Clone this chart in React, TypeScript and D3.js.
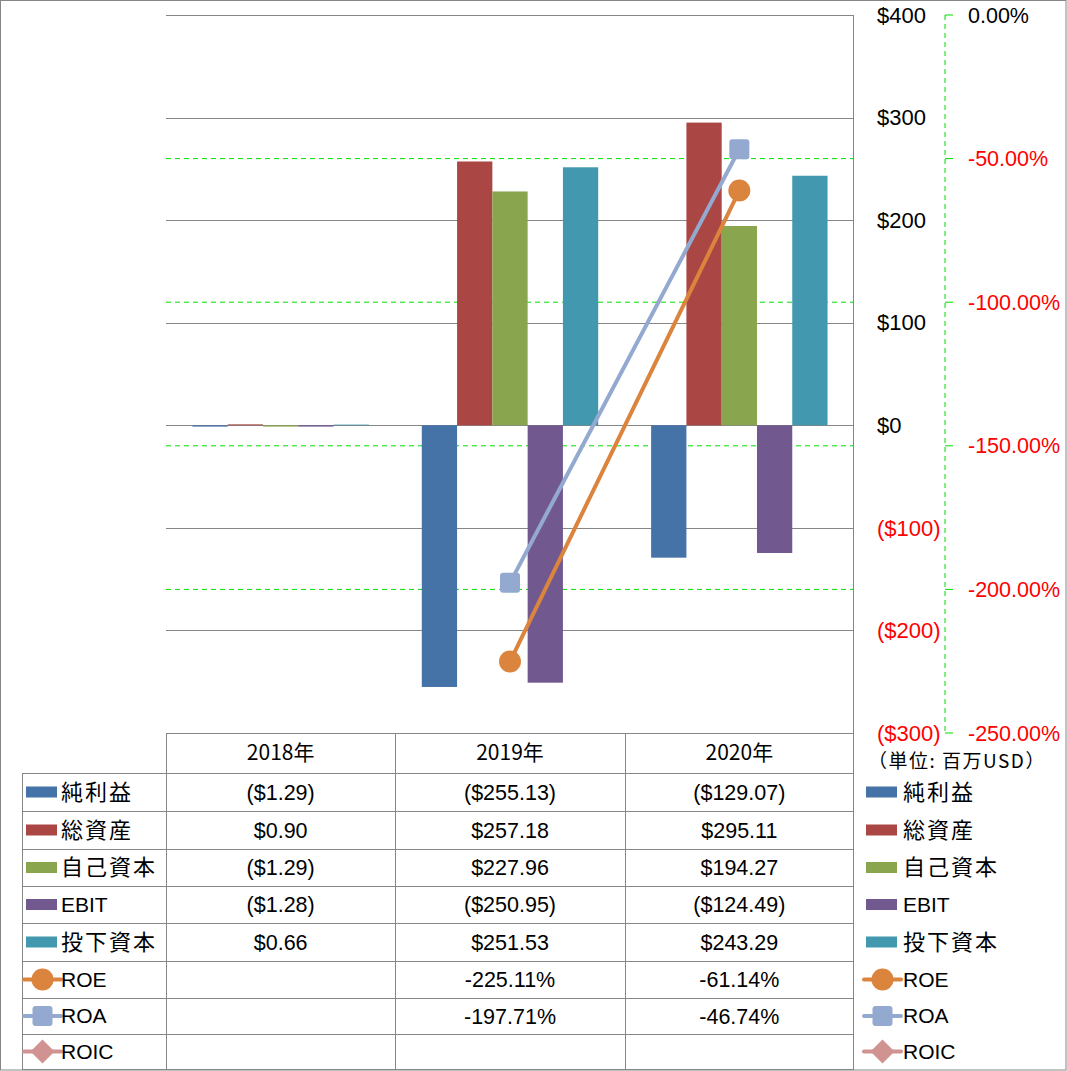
import React from "react";
import * as d3 from "d3";

const years = ["2018年", "2019年", "2020年"];
const barSeries = ["純利益", "総資産", "自己資本", "EBIT", "投下資本"];
const barColors = ["#4572A7", "#AA4643", "#89A54E", "#71588F", "#4198AF"];
const netIncome = [-1.29, -255.13, -129.07];
const totalAssets = [0.9, 257.18, 295.11];
const equity = [-1.29, 227.96, 194.27];
const ebit = [-1.28, -250.95, -124.49];
const investedCapital = [0.66, 251.53, 243.29];
const lineSeries = ["ROE", "ROA", "ROIC"];
const lineColors = ["#DB843D", "#93A9CF", "#D19392"];
const roe: (number | null)[] = [null, -2.2511, -0.6114];
const roa: (number | null)[] = [null, -1.9771, -0.4674];
const roic: (number | null)[] = [null, null, null];
const leftTicks = [400, 300, 200, 100, 0, -100, -200, -300];
const rightTicks = [0, -0.5, -1, -1.5, -2, -2.5];
const unitLabel = "（単位: 百万USD）";

const barData = [netIncome, totalAssets, equity, ebit, investedCapital];
const lineData = [roe, roa, roic];

const FONT = "'Noto Sans CJK JP', 'Noto Sans', sans-serif";
const NUMFONT = "'Liberation Sans', sans-serif";

function fmtMoney(v: number) {
  const s = "$" + Math.abs(v).toFixed(2);
  return v < 0 ? "(" + s + ")" : s;
}
function fmtAxisMoney(v: number) {
  const s = "$" + Math.abs(v).toFixed(0);
  return v < 0 ? "(" + s + ")" : s;
}
function fmtPct(v: number | null) {
  if (v === null) return "";
  return (v * 100).toFixed(2) + "%";
}

function Marker({ kind, x, y, color }: { kind: number; x: number; y: number; color: string }) {
  if (kind === 0) return <circle cx={x} cy={y} r={11} fill={color} />;
  if (kind === 1)
    return <rect x={x - 10} y={y - 10} width={20} height={20} rx={3} fill={color} />;
  return <path d={`M${x},${y - 12}L${x + 12},${y}L${x},${y + 12}L${x - 12},${y}Z`} fill={color} />;
}

export default function App() {
  const W = 1067;
  const H = 1071;
  const plotL = 166;
  const plotR = 854;
  const plotT = 15;
  const plotB = 733;

  const x0 = d3.scaleBand().domain(years).range([plotL, plotR]).padding(0);
  const x1 = d3
    .scaleBand()
    .domain(barSeries)
    .range([0, x0.bandwidth()])
    .paddingInner(0)
    .paddingOuter(0.75);
  const yL = d3.scaleLinear().domain([-300, 400]).range([plotB, plotT]);
  const yR = d3.scaleLinear().domain([-2.5, 0]).range([plotB, plotT]);

  const rowLines = [733, 773, 811, 849, 886, 923, 961, 998, 1034, 1069];
  const rowMid = (i: number) => (rowLines[i] + rowLines[i + 1]) / 2;
  const tableLeft = 22;
  const colLines = [plotL, 395, 625, plotR];

  const lineGen = d3
    .line<{ x: number; y: number }>()
    .x((d) => d.x)
    .y((d) => d.y);

  const allLabels = [...barSeries, ...lineSeries];

  const legendSwatch = (i: number, lx: number, cy: number) => {
    if (i < 5) return <rect x={lx} y={cy - 5.5} width={31} height={11} fill={barColors[i]} />;
    const k = i - 5;
    return (
      <g>
        <line x1={lx - 2} x2={lx + 35} y1={cy} y2={cy} stroke={lineColors[k]} strokeWidth={4} strokeLinecap="round" />
        <Marker kind={k} x={lx + 16.5} y={cy} color={lineColors[k]} />
      </g>
    );
  };

  const labelText = (lab: string, x: number, y: number) => {
    const ascii = /^[A-Za-z]+$/.test(lab);
    return (
      <text
        x={x}
        y={y}
        dy="0.35em"
        fontSize={ascii ? 21 : 22}
        letterSpacing={ascii ? 0 : 2}
        fontFamily={ascii ? NUMFONT : FONT}
        fill="#000"
      >
        {lab}
      </text>
    );
  };

  return (
    <svg width={W} height={H} style={{ position: "absolute", left: 0, top: 0, fontFamily: FONT }}>
      <rect x={0.5} y={0.5} width={W - 1.5} height={H - 1.5} fill="#fff" stroke="#868686" />

      {/* $ gridlines */}
      {leftTicks.map((t) => (
        <line key={"g" + t} x1={plotL} x2={plotR} y1={Math.round(yL(t)) + 0.5} y2={Math.round(yL(t)) + 0.5} stroke="#868686" strokeWidth={1} />
      ))}
      {/* percent gridlines */}
      {rightTicks
        .filter((t) => t !== 0 && t !== -2.5)
        .map((t) => (
          <line key={"pg" + t} x1={plotL} x2={plotR} y1={yR(t)} y2={yR(t)} stroke="#00E000" strokeDasharray="5,4" strokeWidth={1} />
        ))}
      <line x1={plotR - 0.5} x2={plotR - 0.5} y1={plotT} y2={H - 1} stroke="#868686" />

      {/* bars */}
      {years.map((yr, ci) =>
        barSeries.map((s, si) => {
          const v = barData[si][ci];
          const bx = (x0(yr) as number) + (x1(s) as number);
          const y0 = yL(0);
          const yv = yL(v);
          return (
            <rect key={yr + s} x={bx} y={Math.min(y0, yv)} width={x1.bandwidth()} height={Math.abs(yv - y0)} fill={barColors[si]} />
          );
        })
      )}

      {/* lines */}
      {lineData.map((arr, k) => {
        const pts = arr
          .map((v, ci) => (v === null ? null : { x: (x0(years[ci]) as number) + x0.bandwidth() / 2, y: yR(v) }))
          .filter((p) => p !== null) as { x: number; y: number }[];
        return (
          <g key={"l" + k}>
            {pts.length > 1 && <path d={lineGen(pts) || ""} fill="none" stroke={lineColors[k]} strokeWidth={4} strokeLinecap="round" />}
            {pts.map((p, i) => (
              <Marker key={i} kind={k} x={p.x} y={p.y} color={lineColors[k]} />
            ))}
          </g>
        );
      })}

      {/* $ axis labels (on right side) */}
      {leftTicks.map((t) => (
        <text key={"lt" + t} x={877} y={yL(t)} dy="0.35em" fontSize={22} fill={t < 0 ? "#FF0000" : "#000"} fontFamily={NUMFONT}>
          {fmtAxisMoney(t)}
        </text>
      ))}
      {/* percent axis */}
      <line x1={945} x2={945} y1={plotT} y2={plotB} stroke="#00DD00" strokeDasharray="5,4" />
      {rightTicks.map((t) => (
        <g key={"rt" + t}>
          <line x1={945} x2={953} y1={yR(t)} y2={yR(t)} stroke="#00DD00" />
          <text x={968} y={yR(t)} dy="0.35em" fontSize={21.5} fill={t < 0 ? "#FF0000" : "#000"} fontFamily={NUMFONT}>
            {fmtPct(t)}
          </text>
        </g>
      ))}
      <text x={868} y={761} dy="0.35em" fontSize={19} letterSpacing={1.5} fill="#000">
        {unitLabel}
      </text>

      {/* data table */}
      {rowLines.slice(0, -1).map((ry, i) => (
        <line key={"rl" + i} x1={i === 0 ? plotL : tableLeft} x2={plotR} y1={ry + 0.5} y2={ry + 0.5} stroke="#868686" />
      ))}
      <line x1={tableLeft} x2={plotR} y1={H - 1.5} y2={H - 1.5} stroke="#868686" />
      <line x1={tableLeft + 0.5} x2={tableLeft + 0.5} y1={rowLines[1]} y2={H - 1} stroke="#868686" />
      {colLines.slice(0, -1).map((cx, i) => (
        <line key={"cl" + i} x1={cx + 0.5} x2={cx + 0.5} y1={plotB} y2={H - 1} stroke="#868686" />
      ))}
      {years.map((yr) => (
        <text key={"h" + yr} x={(x0(yr) as number) + x0.bandwidth() / 2} y={rowMid(0)} dy="0.35em" textAnchor="middle" fontSize={21} fill="#000">
          {yr}
        </text>
      ))}
      {allLabels.map((lab, i) => (
        <g key={"row" + lab}>
          {legendSwatch(i, 26, rowMid(i + 1))}
          {labelText(lab, 61, rowMid(i + 1))}
          {years.map((yr, ci) => {
            const txt = i < 5 ? fmtMoney(barData[i][ci]) : fmtPct(lineData[i - 5][ci]);
            return (
              <text key={yr} x={(x0(yr) as number) + x0.bandwidth() / 2} y={rowMid(i + 1)} dy="0.35em" textAnchor="middle" fontSize={21.5} fill="#000" fontFamily={NUMFONT}>
                {txt}
              </text>
            );
          })}
        </g>
      ))}

      {/* right legend */}
      {allLabels.map((lab, i) => (
        <g key={"lg" + lab}>
          {legendSwatch(i, 866, rowMid(i + 1))}
          {labelText(lab, 903, rowMid(i + 1))}
        </g>
      ))}
    </svg>
  );
}
